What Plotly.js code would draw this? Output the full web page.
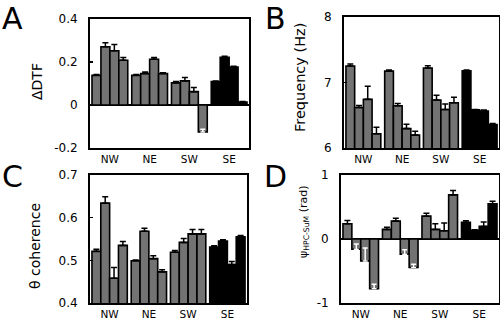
<!DOCTYPE html>
<html>
<head>
<meta charset="utf-8">
<script src="https://cdn.plot.ly/plotly-3.0.1.min.js"></script>
<style>html,body{margin:0;padding:0;background:#fff;}#chart{width:500px;height:321px;}</style>
</head>
<body>
<div id="chart"></div>
<script>
// ---- data ----
const groups = ['NW', 'NE', 'SW', 'SE'];

// Panel A: ΔDTF
const dtfMean   = [0.138, 0.271, 0.252, 0.208,  0.138, 0.146, 0.213, 0.146,  0.103, 0.112, 0.062, -0.125,  0.109, 0.222, 0.176, 0.014];
const dtfErrOut = [0.004, 0.018, 0.029, 0.013,  0.004, 0.008, 0.008, 0.004,  0.006, 0.016, 0.019, 0,       0.003, 0.005, 0.004, 0.002];
const dtfErrIn  = [0, 0, 0, 0,  0, 0, 0, 0,  0, 0, 0, 0.012,  0, 0, 0, 0];
const dtfTicks  = [-0.2, 0, 0.2, 0.4];
const dtfTickText = ['-0.2', '0', '0.2', '0.4'];

// Panel B: Frequency (Hz)
const freqMean   = [7.252, 6.618, 6.743, 6.218,  7.174, 6.644, 6.296, 6.197,  7.221, 6.732, 6.587, 6.691,  7.179, 6.582, 6.566, 6.358];
const freqErrOut = [0.031, 0.030, 0.200, 0.100,  0.016, 0.036, 0.068, 0.058,  0.036, 0.073, 0.083, 0.083,  0.010, 0.005, 0.015, 0.015];
const freqErrIn  = [0, 0, 0, 0,  0, 0, 0, 0,  0, 0, 0, 0,  0, 0, 0, 0];
const freqTicks  = [6, 7, 8];
const freqTickText = ['6', '7', '8'];

// Panel C: θ coherence
const cohMean   = [0.521, 0.634, 0.458, 0.535,  0.499, 0.568, 0.504, 0.473,  0.519, 0.542, 0.562, 0.562,  0.531, 0.545, 0.490, 0.555];
const cohErrOut = [0.005, 0.015, 0.025, 0.009,  0.002, 0.007, 0.007, 0.005,  0.004, 0.009, 0.010, 0.010,  0.003, 0.003, 0.007, 0.003];
const cohErrIn  = [0, 0, 0, 0,  0, 0, 0, 0,  0, 0, 0, 0,  0, 0, 0, 0];
const cohTicks  = [0.4, 0.5, 0.6, 0.7];
const cohTickText = ['0.4', '0.5', '0.6', '0.7'];

// Panel D: ψ HPC-SuM (rad)
const psiMean   = [0.238, -0.160, -0.342, -0.777,  0.150, 0.280, -0.238, -0.446,  0.357, 0.150, 0.130, 0.689,  0.259, 0.135, 0.197, 0.549];
const psiErrOut = [0.050, 0, 0, 0,  0.035, 0.045, 0, 0,  0.047, 0.090, 0.120, 0.067,  0.026, 0.010, 0.067, 0.040];
const psiErrIn  = [0, 0.080, 0.200, 0.070,  0, 0, 0.070, 0.050,  0, 0, 0, 0,  0, 0, 0, 0];
const psiTicks  = [-1, 0, 1];
const psiTickText = ['-1', '0', '1'];

// ---- styles ----
const GREY = '#737373', BLACK = '#000000';
const BW = 0.225;               // bar width (category units)
const FONT = 'DejaVu Sans';
const W = 500, H = 321;

function panelTraces(n, mean, errOut, errIn) {
  const xs = mean.map((_, i) => Math.floor(i / 4) + ((i % 4) - 1.5) * BW);
  const colors = mean.map((_, i) => groups[Math.floor(i / 4)] === 'SE' ? BLACK : GREY);
  const ax = n === 1 ? '' : String(n);
  const bars = {
    type: 'bar', x: xs, y: mean, width: BW,
    marker: {color: colors, line: {color: BLACK, width: 1.6}},
    error_y: {type: 'data', symmetric: false,
      array: mean.map((v, i) => v >= 0 ? errOut[i] : 0),
      arrayminus: mean.map((v, i) => v < 0 ? errOut[i] : 0),
      color: BLACK, thickness: 1.5, width: 3},
    xaxis: 'x' + ax, yaxis: 'y' + ax, showlegend: false, hoverinfo: 'skip'
  };
  const inner = {
    type: 'scatter', mode: 'markers', x: xs,
    y: mean.map((v, i) => errIn[i] > 0 ? v : null),
    marker: {size: 1, color: 'rgba(0,0,0,0)'},
    error_y: {type: 'data', symmetric: false,
      array: mean.map((v, i) => v < 0 ? errIn[i] : 0),
      arrayminus: mean.map((v, i) => v >= 0 ? errIn[i] : 0),
      color: '#ffffff', thickness: 1.5, width: 2.5},
    xaxis: 'x' + ax, yaxis: 'y' + ax, showlegend: false, hoverinfo: 'skip'
  };
  return [bars, inner];
}

const data = [].concat(
  panelTraces(1, dtfMean, dtfErrOut, dtfErrIn),
  panelTraces(2, freqMean, freqErrOut, freqErrIn),
  panelTraces(3, cohMean, cohErrOut, cohErrIn),
  panelTraces(4, psiMean, psiErrOut, psiErrIn)
);

function px(x) { return x / W; }
function py(y) { return 1 - y / H; }

function xaxis(l, r, anchor) {
  return {
    domain: [px(l), px(r)], range: [-0.5, 3.5], anchor: anchor,
    tickvals: [0, 1, 2, 3], ticktext: groups, ticks: '',
    tickfont: {family: FONT, size: 10.5, color: BLACK},
    showline: true, mirror: true, linecolor: BLACK, linewidth: 2,
    showgrid: false, zeroline: false, fixedrange: true
  };
}
function yaxis(t, b, anchor, range, tv, tt, zl) {
  return {
    domain: [py(b), py(t)], range: range, anchor: anchor,
    tickvals: tv, ticktext: tt, ticks: 'inside', ticklen: 3, tickwidth: 1.5, tickcolor: BLACK,
    ticklabelstandoff: 8,
    tickfont: {family: FONT, size: 12, color: BLACK},
    showline: true, mirror: true, linecolor: BLACK, linewidth: 2,
    showgrid: false, zeroline: zl, zerolinecolor: BLACK, zerolinewidth: 2, fixedrange: true
  };
}

function ann(text, x, y, size, angle) {
  return {text: text, xref: 'paper', yref: 'paper', x: px(x), y: py(y),
    xanchor: 'center', yanchor: 'middle', showarrow: false, textangle: angle || 0,
    font: {family: FONT, size: size, color: BLACK}};
}

const layout = {
  width: W, height: H,
  margin: {l: 0, r: 0, t: 0, b: 0},
  paper_bgcolor: '#ffffff', plot_bgcolor: '#ffffff',
  bargap: 0, showlegend: false,
  xaxis:  xaxis(90, 249, 'y'),
  yaxis:  yaxis(19, 148, 'x', [-0.2, 0.4], dtfTicks, dtfTickText, true),
  xaxis2: xaxis(344, 499, 'y2'),
  yaxis2: yaxis(17, 148, 'x2', [6, 8], freqTicks, freqTickText, false),
  xaxis3: xaxis(90, 247, 'y3'),
  yaxis3: yaxis(175, 303, 'x3', [0.4, 0.7], cohTicks, cohTickText, false),
  xaxis4: xaxis(341, 499, 'y4'),
  yaxis4: yaxis(175, 303, 'x4', [-1, 1], psiTicks, psiTickText, true),
  annotations: [
    ann('A', 12, 18, 30), ann('B', 275, 18, 30), ann('C', 12, 177, 30), ann('D', 275, 177, 30),
    ann('ΔDTF', 37, 82, 14, -90),
    ann('Frequency (Hz)', 300, 78, 14.5, -90),
    ann('θ coherence', 35, 246, 14, -90),
    ann('ψ<sub>HPC-SuM</sub> (rad)', 304, 222, 11, -90)
  ]
};

Plotly.newPlot('chart', data, layout, {staticPlot: true, displayModeBar: false});
</script>
</body>
</html>
